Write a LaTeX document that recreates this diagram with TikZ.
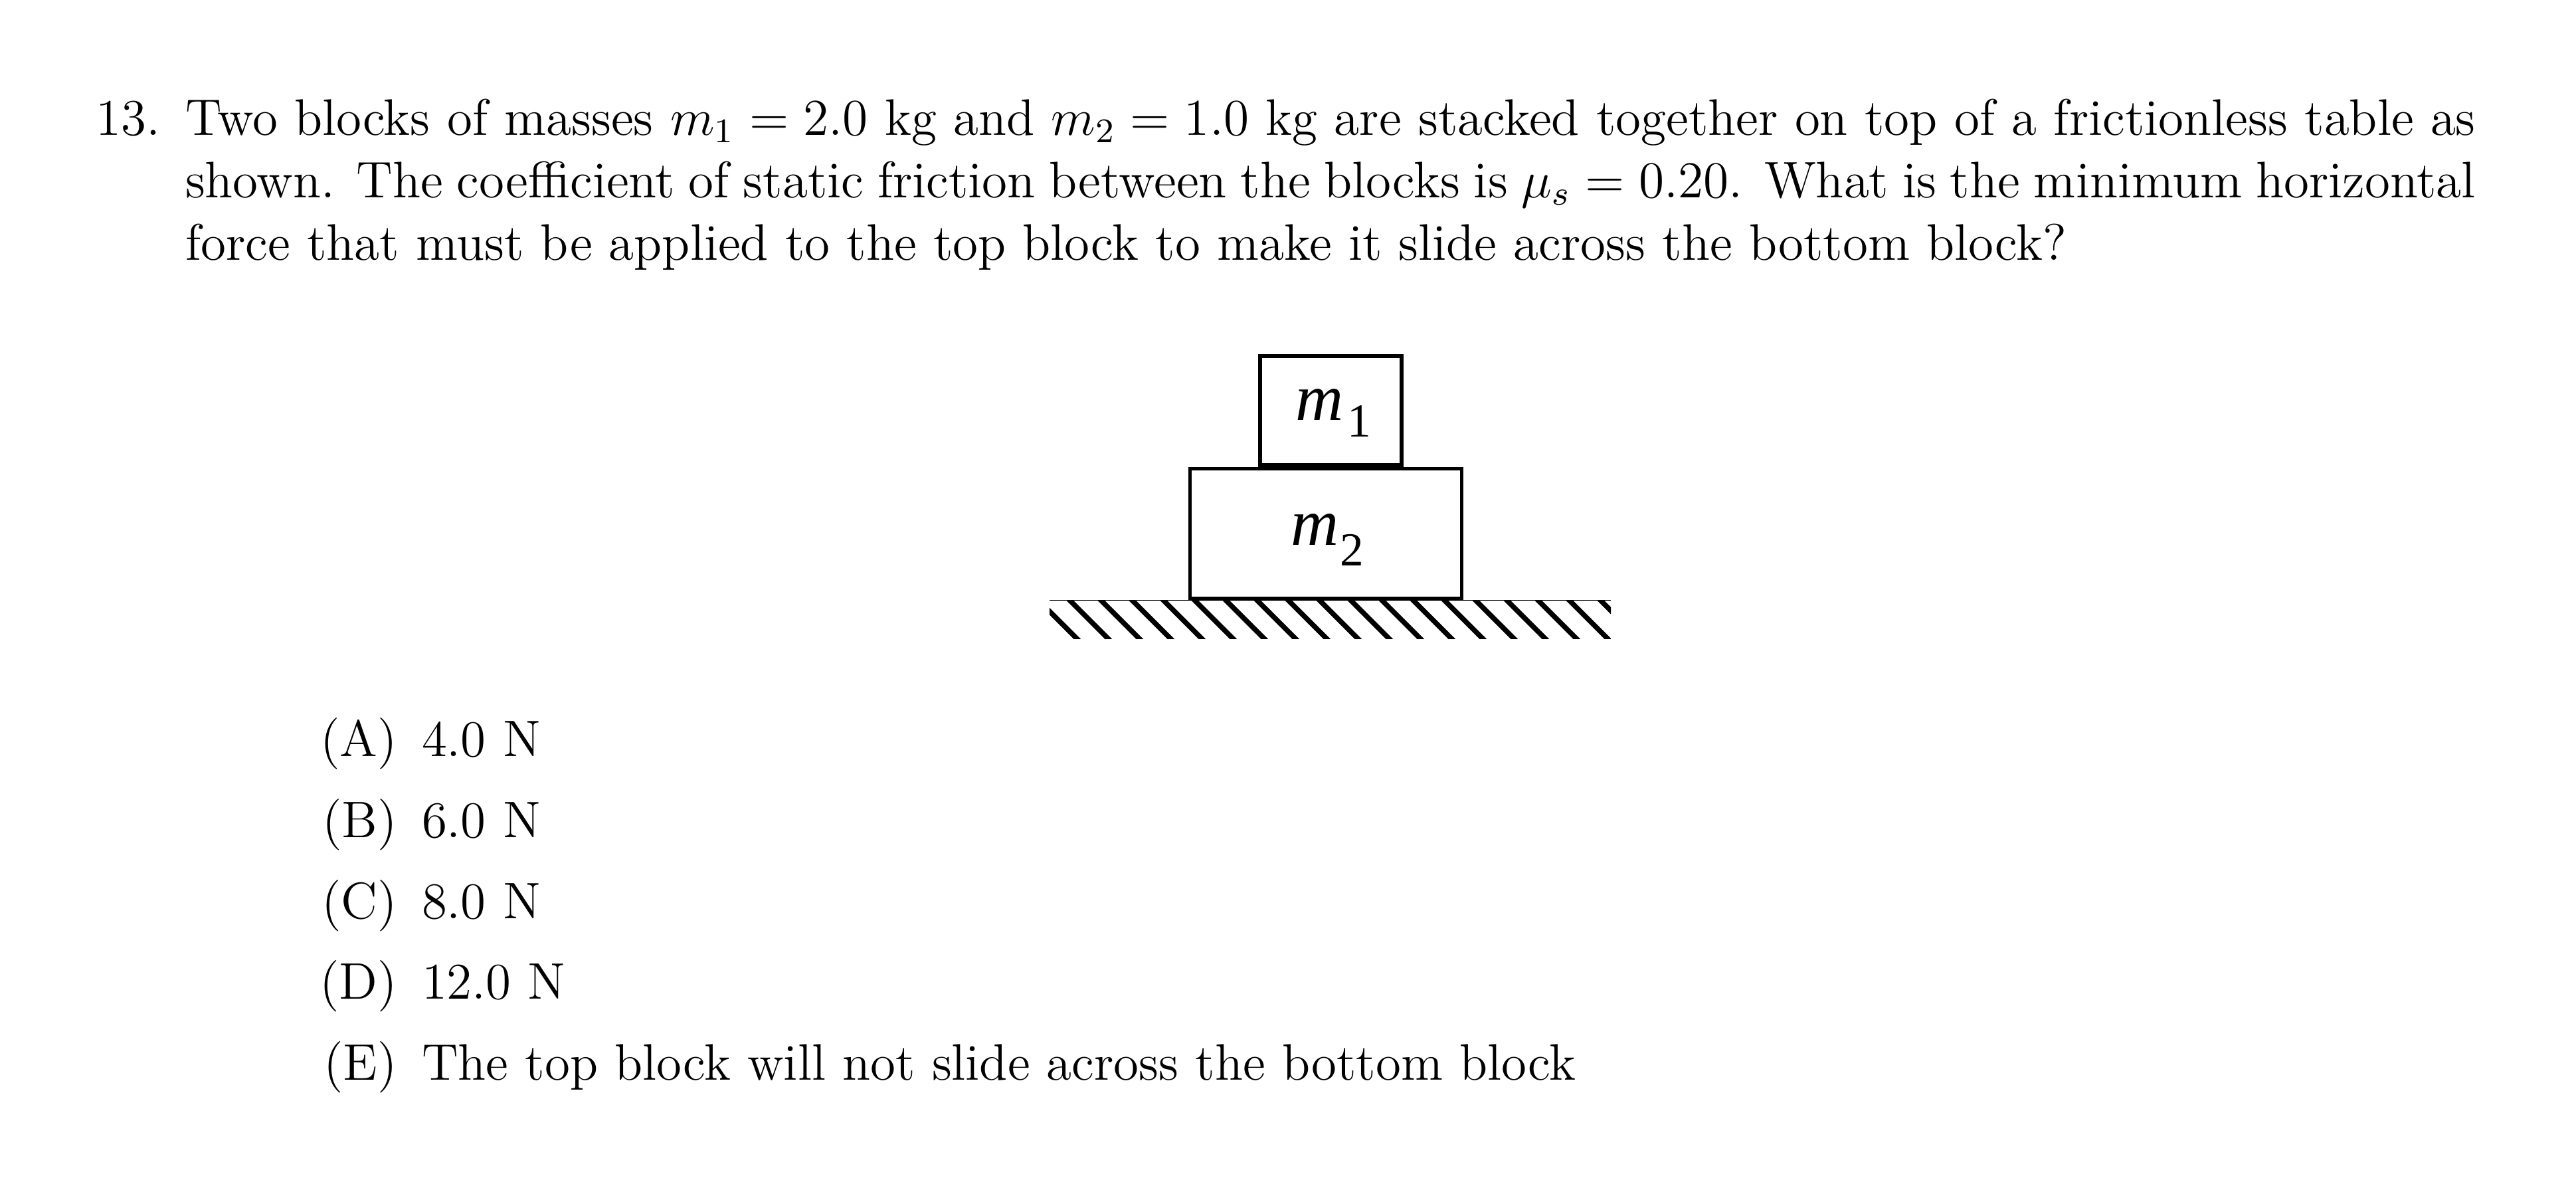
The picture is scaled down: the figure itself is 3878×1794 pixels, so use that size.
\documentclass[tikz,border=0pt]{standalone}
\usepackage{fontspec}
\newfontfamily\labelfont{Liberation Serif}
\newcommand{\fitline}[2]{\hbox to #1{#2}}
\tikzset{
  txt/.style={inner sep=0pt,outer sep=0pt,anchor=base west,font=\fontsize{11.94}{14.5}\selectfont},
  lab/.style={inner sep=0pt,outer sep=0pt,anchor=base east,font=\fontsize{11.94}{14.5}\selectfont},
  block/.style={line width=0.85pt,draw=black,line join=miter},
  hatchline/.style={line width=1.15pt,draw=black},
  groundline/.style={line width=0.3pt,draw=black},
  blocklabel/.style={inner sep=0pt,outer sep=0pt,anchor=base west}
}
\newcommand{\blk}[3]{{\labelfont\fontsize{15.4}{17}\selectfont\itshape m}\kern#2pt\raisebox{-#3pt}{\labelfont\fontsize{11}{12}\selectfont #1}}
\begin{document}
\begin{tikzpicture}[x=0.15432pt,y=-0.15432pt]
\useasboundingbox (0,0) rectangle (3878,1794);
% question
\node[txt] (num) at (145,203) {13.};
\node[txt] (l1) at (279,203) {\fitline{532.1pt}{Two blocks of masses $m_1=2.0$ kg and $m_2=1.0$ kg are stacked together on top of a frictionless table as}};
\node[txt] (l2) at (279,297) {\fitline{532.1pt}{shown.  The coefficient of static friction between the blocks is $\mu_s=0.20$.  What is the minimum horizontal}};
\node[txt] (l3) at (279,391) {force that must be applied to the top block to make it slide across the bottom block?};
% ground
\begin{scope}
\clip (1580,904) rectangle (2425,961);
\foreach \k in {-2,...,19}
  \draw[hatchline] ({1564+47*\k-4},900) -- ++(65,65);
\end{scope}
\draw[groundline] (1580,903.5) -- (2425,903.5);
% blocks
\draw[block] (1897,536) rectangle (2110,700);
\draw[block] (1791.7,705.5) rectangle (2200.5,901);
\node[blocklabel] (m1) at (1950,632) {\blk{1}{1.0}{4.0}};
\node[blocklabel] (m2) at (1943,820) {\blk{2}{0.4}{4.9}};
% answers
\node[lab] (la) at (598,1138) {(A)};
\node[txt] (ta) at (635,1138) {4.0 N};
\node[lab] (lb) at (598,1260) {(B)};
\node[txt] (tb) at (635,1260) {6.0 N};
\node[lab] (lc) at (598,1382) {(C)};
\node[txt] (tc) at (635,1382) {8.0 N};
\node[lab] (ld) at (598,1503) {(D)};
\node[txt] (td) at (635,1503) {12.0 N};
\node[lab] (le) at (598,1625) {(E)};
\node[txt] (te) at (635,1625) {The top block will not slide across the bottom block};
\end{tikzpicture}
\end{document}
